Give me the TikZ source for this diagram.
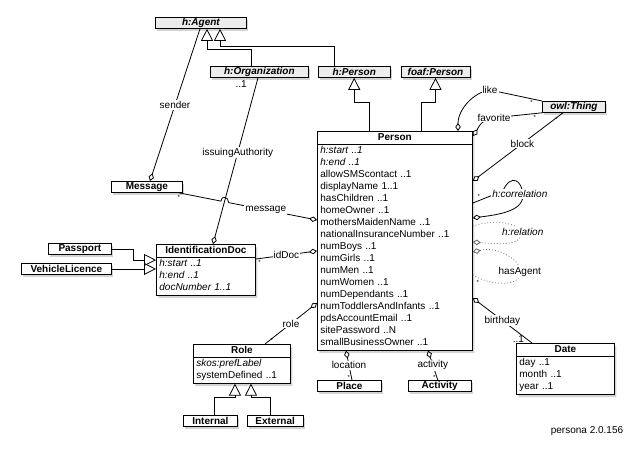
\documentclass[tikz,border=0pt]{standalone}
\usepackage{fontspec}
\setmainfont{Liberation Sans}
\usetikzlibrary{arrows.meta,positioning,shapes.multipart,shadows,calc}
\tikzset{
  box/.style={draw, line width=0.8pt, fill=white, minimum width=#1, minimum height=11pt, inner sep=0pt, font=\fontsize{10}{12}\selectfont\bfseries, drop shadow={shadow xshift=2pt, shadow yshift=-3pt, opacity=0.35}},
  iface/.style={box=#1, fill=gray!15, font=\fontsize{10}{12}\selectfont\bfseries\itshape},
  cls/.style={rectangle split, rectangle split parts=2, draw, line width=0.8pt, fill=white, text width=#1, inner xsep=3pt, inner ysep=0.3pt, font=\fontsize{10}{12}\selectfont, drop shadow={shadow xshift=2pt, shadow yshift=-3pt, opacity=0.35}},
  gen/.style={-{Triangle[open,length=12pt,width=12pt]}, line width=0.8pt},
  agg/.style={-{Diamond[open,length=8pt,width=5.5pt]}, line width=0.8pt},
  aggdot/.style={agg, draw=black!60, dash pattern=on 0.8pt off 2.2pt},
  lbl/.style={fill=white, inner sep=1pt, font=\fontsize{10}{12}\selectfont},
  mlt/.style={inner sep=1pt, font=\fontsize{10}{12}\selectfont},
  mult/.style={inner sep=1pt, font=\fontsize{6}{6}\selectfont}
}
\newcommand{\clshead}[1]{\hbox to\hsize{\hss\strut\textbf{#1}\hss}}

\begin{document}
\begin{tikzpicture}[x=1pt,y=-1pt]
  \useasboundingbox (0,0) rectangle (634,451);

  % supertypes
  \node[iface=91pt, anchor=north west] (agent) at (155,17) {h:Agent};
  \node[iface=98pt, anchor=north west] (org) at (210,66) {h:Organization};
  \node[iface=72pt, right=9pt of org] (hperson) {h:Person};
  \node[iface=69pt, right=10pt of hperson] (foafperson) {foaf:Person};
  \node[iface=63pt, anchor=north west] (thing) at (542,101) {owl:Thing};

  % classes
  \node[cls=149pt, anchor=north west] (person) at (317,131) {\clshead{Person}\nodepart{two}\strut\textit{h:start ..1}\\
    \textit{h:end ..1}\\
    allowSMScontact ..1\\
    displayName 1..1\\
    hasChildren ..1\\
    homeOwner ..1\\
    mothersMaidenName ..1\\
    nationalInsuranceNumber ..1\\
    numBoys ..1\\
    numGirls ..1\\
    numMen ..1\\
    numWomen ..1\\
    numDependants ..1\\
    numToddlersAndInfants ..1\\
    pdsAccountEmail ..1\\
    sitePassword ..N\\
    smallBusinessOwner ..1\strut};
  \node[cls=93pt, anchor=north west] (iddoc) at (156,244) {\clshead{IdentificationDoc}\nodepart{two}\strut\textit{h:start ..1}\\
    \textit{h:end ..1}\\
    \textit{docNumber 1..1}\strut};
  \node[cls=91pt, anchor=north west] (role) at (193,344) {\clshead{Role}\nodepart{two}\strut\textit{skos:prefLabel}\\
    systemDefined ..1\strut};
  \node[cls=92pt, anchor=north west] (date) at (516,343) {\clshead{Date}\nodepart{two}\strut day ..1\\
    month ..1\\
    year ..1\strut};

  \node[box=71pt, anchor=north west] (message) at (111,181) {Message};
  \node[box=63pt, anchor=north west] (passport) at (48,243) {Passport};
  \node[box=90pt, anchor=north west] (vehicle) at (21,263) {VehicleLicence};
  \node[box=54pt, anchor=north west] (internal) at (183,415) {Internal};
  \node[box=56pt, right=9pt of internal] (external) {External};
  \node[box=64pt, anchor=north west] (place) at (317,380) {Place};
  \node[box=63pt, right=26pt of place] (activity) {Activity};

  \node[mlt] (version) at (587,431) {persona 2.0.156};

  % generalisation
  \draw[gen] ([xshift=41pt]org.north west) -- ++(0,-17) -| ([xshift=52pt]agent.south west);
  \draw[gen] ([xshift=17pt]hperson.north west) -- ++(0,-20) -| ([xshift=65pt]agent.south west);
  \draw[gen] ([xshift=52pt]person.north west) -- ++(0,-29) -| (hperson.south);
  \draw[gen] ([xshift=104pt]person.north west) -- ++(0,-29) -| (foafperson.south);
  \draw[gen] (passport.east) -- ++(22,0) |- ($(iddoc.north west)+(0,16)$);
  \draw[gen] (vehicle.east) -- (vehicle.east -| iddoc.west);
  \draw[gen] ([xshift=31pt]internal.north west) -- ++(0,-18) -| ([xshift=42pt]role.south west);
  \draw[gen] ([xshift=24pt]external.north west) -- ++(0,-18) -| ([xshift=58pt]role.south west);

  % attachment points on Person
  \coordinate (pmsg) at ($(person.north west)+(0,89)$);
  \coordinate (piddoc) at ($(person.north west)+(0,120)$);
  \coordinate (prole) at ($(person.north west)+(0,172)$);
  \coordinate (ploc) at ($(person.south west)+(29,0)$);
  \coordinate (pact) at ($(person.south west)+(111,0)$);
  \coordinate (plike) at ($(person.north west)+(141,0)$);
  \coordinate (pfav) at ($(person.north east)+(0,5)$);
  \coordinate (pblock) at ($(person.north east)+(0,50)$);
  \coordinate (pcorA) at ($(person.north east)+(0,72)$);
  \coordinate (pcorB) at ($(person.north east)+(0,87)$);
  \coordinate (prelA) at ($(person.north east)+(0,95)$);
  \coordinate (prelB) at ($(person.north east)+(0,111)$);
  \coordinate (pagB) at ($(person.north east)+(0,121)$);
  \coordinate (pagA) at ($(person.north east)+(0,144)$);
  \coordinate (pbday) at ($(person.north east)+(0,167)$);
  \coordinate (msgout) at ([xshift=-4pt]message.south east);

  % associations
  \draw[agg] ([xshift=45pt]agent.south west) -- node[lbl]{sender} ([xshift=39pt]message.north west);
  \draw[agg] ([xshift=48pt]org.south west) -- node[lbl,pos=0.45]{issuingAuthority} node[mlt,pos=0.04,left=8pt]{..1} ([xshift=57pt]iddoc.north west);
  \draw[agg] (msgout) -- node[mult,pos=0,below=1pt]{*} ($(msgout)!0.305!(pmsg)$) .. controls +(0,-6) and +(0,-6) .. ($(msgout)!0.361!(pmsg)$) -- node[lbl,pos=0.42]{message} (pmsg);
  \draw[agg] ($(iddoc.north east)+(0,15)$) -- node[lbl]{idDoc} node[mult,pos=0.06,below]{*} (piddoc);
  \draw[agg] ([xshift=72pt]role.north west) -- node[lbl]{role} node[mult,pos=0.08,right]{*} (prole);
  \draw[agg] ([xshift=35pt]place.north west) -- node[lbl]{location} node[mult,pos=0.1,left]{*} (ploc);
  \draw[agg] ([xshift=30pt]activity.north west) -- node[lbl]{activity} node[mult,pos=0.1,left]{*} (pact);
  \draw[agg] ([xshift=16pt]date.north west) -- node[lbl]{birthday} node[mlt,pos=0.08,left=2pt]{..1} (pbday);
  \draw[agg] ([xshift=21pt]thing.south west) -- node[lbl,pos=0.45]{block} node[mult,pos=0.1,right]{*} (pblock);
  \draw[agg] (thing.north west) -- node[mult,pos=0.2,below]{*} ++(-52,-11) node[lbl]{like} .. controls +(-16,2) and +(0,-22) .. (plike);
  \draw[agg] (thing.south west) -- node[mult,pos=0.15,below]{*} ++(-48,5) node[lbl]{favorite} .. controls +(-14,2) and +(5,-7) .. (pfav);

  % self associations
  \draw[agg] (pcorA) -- ++(30,-12) .. controls +(8,-18) and +(0,-16) .. ++(20,5) .. controls +(0,16) and +(22,-3) .. (pcorB)
    node[lbl,font=\fontsize{10}{12}\selectfont\itshape] at ($(pcorA)+(47,-9)$) {h:correlation}
    node[mult] at ($(pcorA)+(6,-7)$) {*};
  \draw[aggdot] (prelA) .. controls +(25,-8) and +(0,-10) .. ++(48,8) .. controls +(0,12) and +(25,2) .. (prelB)
    node[lbl,font=\fontsize{10}{12}\selectfont\itshape] at ($(prelA)+(50,6)$) {h:relation};
  \draw[aggdot] (pagA) .. controls +(20,12) and +(0,14) .. ++(48,-3) .. controls +(0,-12) and +(25,-6) .. (pagB)
    node[lbl] at ($(pagA)+(47,-3)$) {hasAgent}
    node[mult] at ($(pagA)+(5,7)$) {*};
\end{tikzpicture}
\end{document}
